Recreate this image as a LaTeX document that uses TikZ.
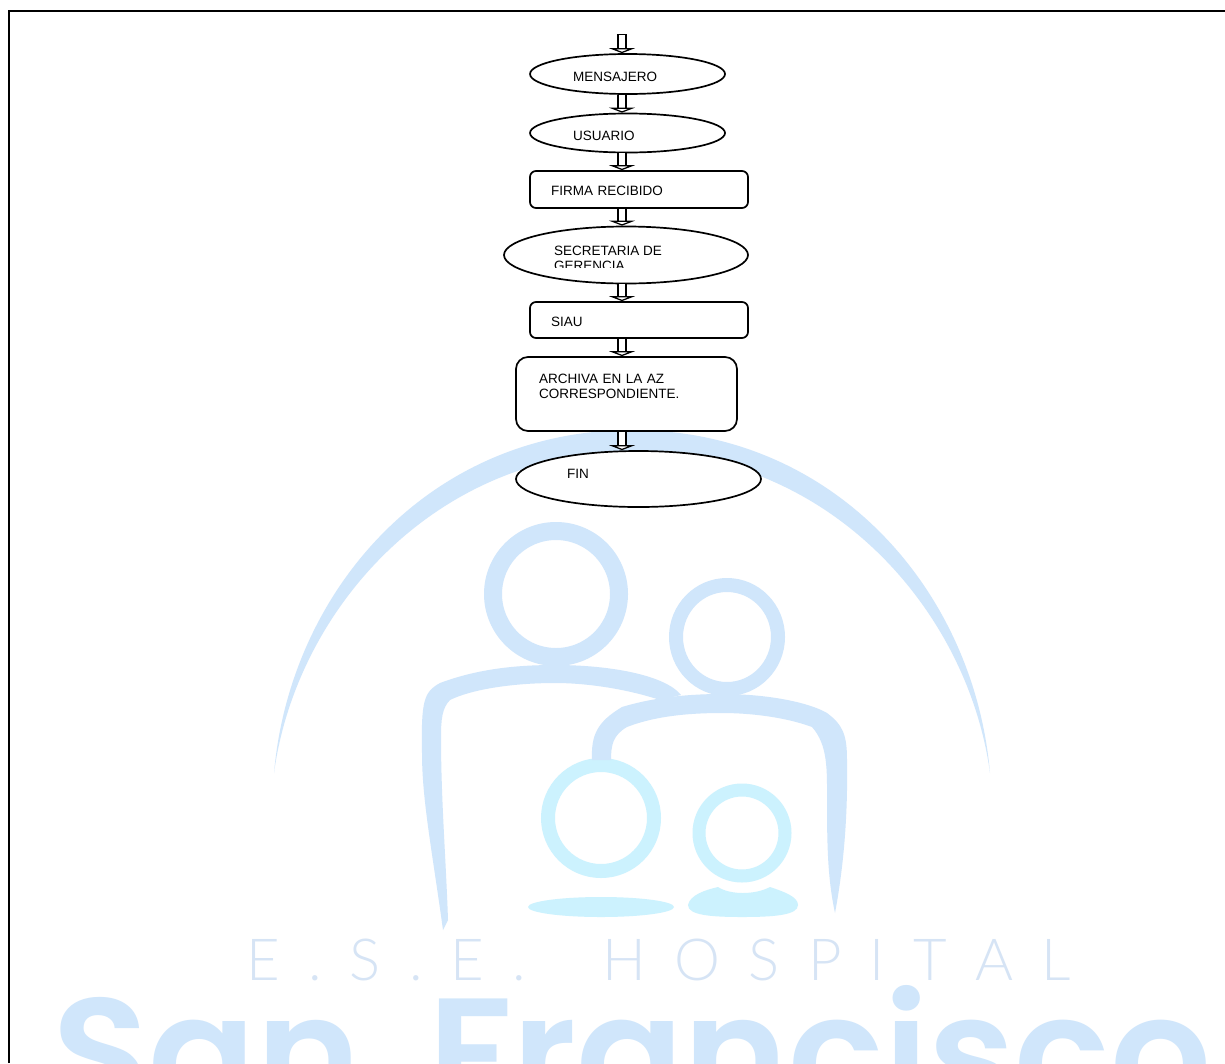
\documentclass[tikz,border=0pt]{standalone}
\usepackage{fontspec}
\setmainfont{Liberation Sans}
\newfontfamily\wmbold[FakeStretch=1.01]{Poppins SemiBold}
\newfontfamily\wmthin[LetterSpace=21.5]{Lato Light}
\usepackage{xcolor}
\usetikzlibrary{arrows.meta,calc,shapes.geometric}
\definecolor{wmblue}{HTML}{D0E6FB}
\definecolor{wmcyan}{HTML}{CCF2FE}
\definecolor{wmgray}{HTML}{D6E4F5}

\begin{document}
\begin{tikzpicture}[x=1pt,y=-1pt,
  oval/.style={draw,ellipse,line width=1.7pt,fill=white,inner sep=0pt,align=left,font=\fontsize{13.5}{15}\selectfont},
  box/.style={draw,rounded corners=6pt,line width=1.7pt,fill=white,inner sep=0pt,align=left,font=\fontsize{13.5}{15}\selectfont},
  blockarrow/.style={double,double distance=6.5pt,line width=1.6pt,-{Triangle[open,fill=white,length=5pt,width=26pt,line width=1.6pt]}},
  ring/.style={draw=#1,fill=none}]
  \useasboundingbox (0,0) rectangle (1225,1063);
  \fill[white] (0,0) rectangle (1225,1063);
  % ---- watermark ----
  \fill[wmblue] (274,773) .. controls (290,590) and (430,430) .. (632,430)
    .. controls (834,430) and (974,590) .. (990,773)
    .. controls (968,610) and (829,452) .. (632,452)
    .. controls (435,452) and (296,610) .. (274,773) -- cycle;
  \draw[ring=wmblue,line width=18pt] (556,594) ellipse [x radius=63,y radius=63];
  \draw[ring=wmblue,line width=14pt] (727,637) ellipse [x radius=51,y radius=52];
  \draw[ring=wmcyan,line width=14pt] (601,818) ellipse [x radius=53,y radius=53];
  \draw[ring=wmcyan,line width=13pt] (742,833) ellipse [x radius=43,y radius=43];
  \fill[wmblue] (443,930) .. controls (432,850) and (422,800) .. (422,753)
    .. controls (421,700) and (424,692) .. (440,683)
    .. controls (480,668) and (520,665) .. (555,665)
    .. controls (610,665) and (665,675) .. (681,695) -- (660,700)
    .. controls (630,690) and (590,683) .. (555,683)
    .. controls (510,683) and (470,690) .. (450,700)
    .. controls (442,708) and (441,720) .. (441,737)
    .. controls (441,800) and (446,860) .. (448,920) -- (443,930) -- cycle;
  \fill[wmblue] (592,760) .. controls (591,735) and (597,722) .. (622,707)
    .. controls (655,697) and (690,694) .. (722,694)
    .. controls (770,694) and (810,703) .. (827,713)
    .. controls (843,725) and (847,735) .. (847,760)
    .. controls (848,820) and (843,870) .. (835,913)
    .. controls (828,880) and (827,850) .. (827,800)
    .. controls (827,770) and (828,745) .. (812,727)
    .. controls (785,717) and (750,713) .. (722,713)
    .. controls (680,713) and (650,718) .. (627,727)
    .. controls (613,735) and (611,745) .. (611,760) -- cycle;
  \fill[wmcyan] (601,907) ellipse [x radius=73,y radius=10];
  \fill[wmcyan] (688,905) .. controls (690,895) and (705,890) .. (718,887)
    .. controls (730,895) and (755,895) .. (770,887)
    .. controls (785,892) and (798,897) .. (798,905)
    .. controls (798,915) and (775,917) .. (742,917)
    .. controls (710,917) and (688,915) .. (688,905) -- cycle;
  \node[wmgray,anchor=base west,inner sep=0pt,font=\wmthin\fontsize{58}{58}\selectfont] (hospital) at (246,980)
    {E . S . E .\ \ \hspace{20pt}H O S P I T A L};
  \begin{scope}
    \clip (0,0) rectangle (1225,1063);
    \node[wmblue,anchor=base west,inner sep=0pt,font=\wmbold\fontsize{157}{157}\selectfont] (san) at (52,1108) {San};
    \node[wmblue,anchor=base west,inner sep=0pt,font=\wmbold\fontsize{157}{157}\selectfont] (francisco) at (428,1108) {Francisco};
  \end{scope}
  % ---- frame ----
  \draw[line width=2pt] (8.5,1063) -- (8.5,11) -- (1225,11);
  % ---- flow ----
  \coordinate (axis) at (622,35);
  \node[oval,minimum width=195pt,minimum height=40pt,text width=109pt,text height=14pt,text depth=0pt] (mensajero) at (627.5,74) {MENSAJERO};
  \node[oval,minimum width=195pt,minimum height=39pt,text width=109pt,text height=14pt,text depth=0pt] (usuario) at (627.5,133) {USUARIO};
  \node[box,minimum width=218pt,minimum height=37pt,text width=176pt,text height=11.5pt,text depth=0pt] (firma) at (639,189.5) {FIRMA RECIBIDO};
  \node[oval,minimum width=244pt,minimum height=57pt] (secretaria) at (626,255) {};
  \node[box,minimum width=218pt,minimum height=36pt,text width=176pt,text height=12pt,text depth=0pt] (siau) at (639,320) {SIAU};
  \node[box,rounded corners=12pt,minimum width=221pt,minimum height=74pt,text width=175pt] (archiva) at (626.5,394)
    {ARCHIVA EN LA AZ\\CORRESPONDIENTE.\\~};
  \node[oval,minimum width=245pt,minimum height=56pt,text width=143pt] (fin) at (638.5,479) {FIN\\[-5pt]~};
  \begin{scope}
    \clip (504,226) rectangle (748,267.5);
    \node[anchor=north west,inner sep=0pt,align=left,font=\fontsize{13.5}{15}\selectfont] (secretariatext) at (554,246)
      {SECRETARIA DE\\GERENCIA};
  \end{scope}
  \draw[line width=1.6pt] ($(axis)+(-5.2,0)$) -- ($(axis)+(5.2,0)$);
  \draw[blockarrow] (axis) -- (mensajero.north -| axis);
  \draw[blockarrow] (mensajero.south -| axis) -- (usuario.north -| axis);
  \draw[blockarrow] (usuario.south -| axis) -- (firma.north -| axis);
  \draw[blockarrow] (firma.south -| axis) -- (secretaria.north -| axis);
  \draw[blockarrow] (secretaria.south -| axis) -- (siau.north -| axis);
  \draw[blockarrow] (siau.south -| axis) -- (archiva.north -| axis);
  \draw[blockarrow] (archiva.south -| axis) -- (fin.north -| axis);
\end{tikzpicture}
\end{document}
